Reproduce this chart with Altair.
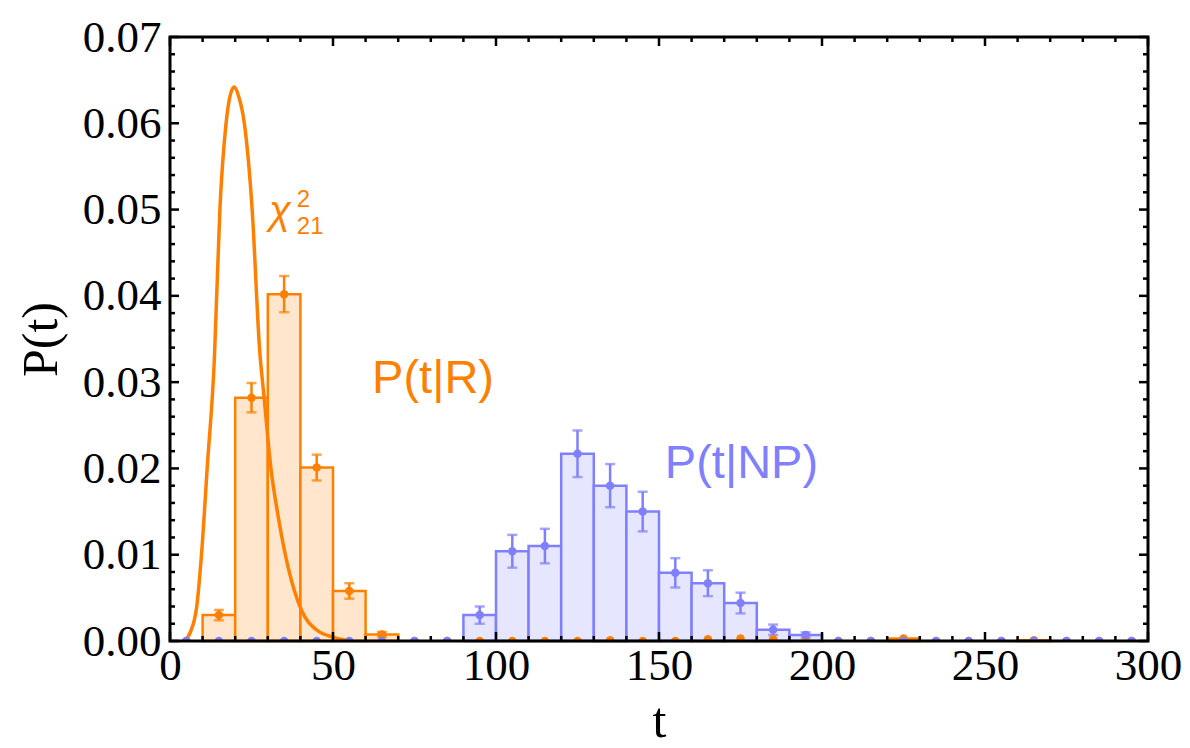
import altair as alt
import pandas as pd

# ---------------- data ----------------
bin_lo = list(range(0, 300, 10))
bin_width = 10

p_R = [0, 0.0030, 0.0282, 0.0402, 0.0201, 0.0058, 0.00075, 0, 0, 0,
       0, 0, 0, 0.0001, 0, 0, 0.0002, 0.0003, 0.0002, 0,
       0, 0, 0.0003, 0, 0, 0, 0.0001, 0, 0, 0]
err_R = [0, 0.0006, 0.0017, 0.0021, 0.0015, 0.0009, 0.0003, 0, 0, 0,
         0, 0, 0, 0, 0, 0, 0, 0, 0, 0,
         0, 0, 0, 0, 0, 0, 0, 0, 0, 0]

p_NP = [0, 0, 0, 0, 0, 0, 0, 0, 0,
        0.0030, 0.0104, 0.0110, 0.0217, 0.0180, 0.0150, 0.0079, 0.0067, 0.0044, 0.0013, 0.0007,
        0, 0, 0, 0, 0, 0, 0, 0, 0, 0]
err_NP = [0, 0, 0, 0, 0, 0, 0, 0, 0,
          0.0010, 0.0019, 0.0020, 0.0027, 0.0025, 0.0023, 0.0017, 0.0015, 0.0012, 0.0006, 0.0003,
          0, 0, 0, 0, 0, 0, 0, 0, 0, 0]

# chi-square (21 dof) curve
chi_t = [4.5, 6.1, 8.2, 9.7, 11.4, 13.6, 15.3, 17.2, 18.5, 19.7, 21.0, 22.8, 25.2,
         27.5, 28.9, 30.9, 33.2, 36.2, 40.3, 44.9, 50.5, 56.0]
chi_p = [0.0, 0.0009, 0.0040, 0.0102, 0.0200, 0.0326, 0.0500, 0.0600, 0.0633, 0.0642, 0.0632, 0.0600, 0.0500,
         0.0337, 0.0281, 0.0202, 0.0144, 0.0086, 0.0036, 0.0013, 0.0004, 0.0]

x_major = [0, 50, 100, 150, 200, 250, 300]
x_minor = [v for v in range(0, 301, 10) if v % 50 != 0]
y_major = [0.0, 0.01, 0.02, 0.03, 0.04, 0.05, 0.06, 0.07]
y_minor = [round(i * 0.002, 3) for i in range(36) if i % 5 != 0]

labels_text = ["P(t|R)", "P(t|NP)"]
labels_t = [62.0, 151.8]
labels_p = [0.0287, 0.01886]

# ---------------- styling ----------------
ORANGE = "#FF8000"
ORANGE_FILL = "#FFE6CC"
BLUE = "#8080FF"
BLUE_FILL = "#E6E6FF"
W, H = 978, 604
SERIF = "Liberation Serif"
SANS = "Liberation Sans"

xscale = alt.Scale(domain=[0, 300], nice=False, zero=False)
yscale = alt.Scale(domain=[0, 0.07], nice=False, zero=False)

xaxis = alt.Axis(values=x_major, format="d", ticks=False, domain=False, grid=False,
                 labelFont=SERIF, labelFontSize=45, labelColor="black", labelFlush=False,
                 labelPadding=2, labelOverlap=False,
                 title="t", titleFont=SERIF, titleFontSize=50, titleFontWeight="normal",
                 titleColor="black", titlePadding=8)
yaxis = alt.Axis(values=y_major, format=".2f", ticks=False, domain=False, grid=False,
                 labelFont=SERIF, labelFontSize=45, labelColor="black", labelFlush=False,
                 labelPadding=9, labelOverlap=False,
                 title="P(t)", titleFont=SERIF, titleFontSize=50, titleFontWeight="normal",
                 titleColor="black", titlePadding=16)


def X(field="t"):
    return alt.X(f"{field}:Q", scale=xscale, axis=xaxis)


def Y(field="P"):
    return alt.Y(f"{field}:Q", scale=yscale, axis=yaxis)


def hist_df(vals, errs):
    rows = []
    for lo, v, e in zip(bin_lo, vals, errs):
        rows.append({"t": lo, "t2": lo + bin_width, "c": lo + bin_width / 2,
                     "P": v, "P0": 0.0, "lo": max(v - e, 0), "hi": v + e, "e": e})
    return pd.DataFrame(rows)


dR = hist_df(p_R, err_R)
dN = hist_df(p_NP, err_NP)


def bars(df, fill, stroke):
    return alt.Chart(df[df.P > 0]).mark_rect(fill=fill, stroke=stroke, strokeWidth=2.5).encode(
        x=X("t"), x2=alt.X2("t2:Q"), y=Y("P"), y2=alt.Y2("P0:Q"))


def errbars(df, color):
    d = df[df.e > 0]
    rule = alt.Chart(d).mark_rule(color=color, strokeWidth=2.5).encode(
        x=X("c"), y=Y("lo"), y2=alt.Y2("hi:Q"))
    cap_lo = alt.Chart(d).mark_tick(color=color, orient="horizontal", size=10, thickness=2.5).encode(
        x=X("c"), y=Y("lo"))
    cap_hi = alt.Chart(d).mark_tick(color=color, orient="horizontal", size=10, thickness=2.5).encode(
        x=X("c"), y=Y("hi"))
    return rule + cap_lo + cap_hi


def points(df, color):
    return alt.Chart(df).mark_circle(color=color, size=72, opacity=1, clip=True).encode(
        x=X("c"), y=Y("P"))


curve = alt.Chart(pd.DataFrame({"t": chi_t, "P": chi_p})).mark_line(
    color=ORANGE, strokeWidth=3.5, interpolate="monotone", clip=True).encode(x=X("t"), y=Y("P"))

# inward frame ticks
dxM = pd.DataFrame({"t": x_major})
dxm = pd.DataFrame({"t": x_minor})
dyM = pd.DataFrame({"P": y_major})
dym = pd.DataFrame({"P": y_minor})


def xticks(df, length):
    b = alt.Chart(df).mark_rule(color="black", strokeWidth=2.5).encode(
        x=X("t"), y=alt.value(H), y2=alt.value(H - length))
    t = alt.Chart(df).mark_rule(color="black", strokeWidth=2.5).encode(
        x=X("t"), y=alt.value(0), y2=alt.value(length))
    return b + t


def yticks(df, length):
    l = alt.Chart(df).mark_rule(color="black", strokeWidth=2.5).encode(
        y=Y("P"), x=alt.value(0), x2=alt.value(length))
    r = alt.Chart(df).mark_rule(color="black", strokeWidth=2.5).encode(
        y=Y("P"), x=alt.value(W), x2=alt.value(W - length))
    return l + r


frame = alt.Chart(pd.DataFrame({"a": [0]})).mark_rect(
    fill="white", fillOpacity=0, stroke="black", strokeWidth=3).encode(
    x=alt.value(0), x2=alt.value(W), y=alt.value(0), y2=alt.value(H))

# annotations
lab_df = pd.DataFrame({"t": labels_t, "P": labels_p, "txt": labels_text,
                       "col": ["R", "NP"]})
lab_R = alt.Chart(lab_df[lab_df.col == "R"]).mark_text(
    font=SANS, fontSize=47, color=ORANGE, align="left", baseline="alphabetic").encode(
    x=X("t"), y=Y("P"), text="txt:N")
lab_N = alt.Chart(lab_df[lab_df.col == "NP"]).mark_text(
    font=SANS, fontSize=47, color=BLUE, align="left", baseline="alphabetic").encode(
    x=X("t"), y=Y("P"), text="txt:N")

chi_df = pd.DataFrame({"t": [30.4], "P": [0.0483], "txt": ["χ"]})
sup_df = pd.DataFrame({"t": [38.9], "P": [0.0503], "txt": ["2"]})
sub_df = pd.DataFrame({"t": [38.9], "P": [0.0472], "txt": ["21"]})
chi_sym = alt.Chart(chi_df).mark_text(font=SANS, fontSize=40, fontStyle="italic", color=ORANGE,
                                      align="left", baseline="alphabetic").encode(
    x=X("t"), y=Y("P"), text="txt:N")
chi_sup = alt.Chart(sup_df).mark_text(font=SANS, fontSize=24, color=ORANGE,
                                      align="left", baseline="alphabetic").encode(
    x=X("t"), y=Y("P"), text="txt:N")
chi_sub = alt.Chart(sub_df).mark_text(font=SANS, fontSize=24, color=ORANGE,
                                      align="left", baseline="alphabetic").encode(
    x=X("t"), y=Y("P"), text="txt:N")

chart = alt.layer(
    bars(dR, ORANGE_FILL, ORANGE),
    bars(dN, BLUE_FILL, BLUE),
    curve,
    errbars(dR, ORANGE),
    errbars(dN, BLUE),
    points(dR, ORANGE),
    points(dN, BLUE),
    lab_R, lab_N, chi_sym, chi_sup, chi_sub,
    xticks(dxM, 9), xticks(dxm, 5),
    yticks(dyM, 9), yticks(dym, 5),
    frame,
).properties(
    width=W, height=H,
    padding={"left": 170, "top": 37, "right": 42, "bottom": 107},
    autosize=alt.AutoSizeParams(type="none"),
    background="white",
).configure_view(strokeWidth=0)

chart.save("out.html", embed_options={"renderer": "svg", "actions": False})
